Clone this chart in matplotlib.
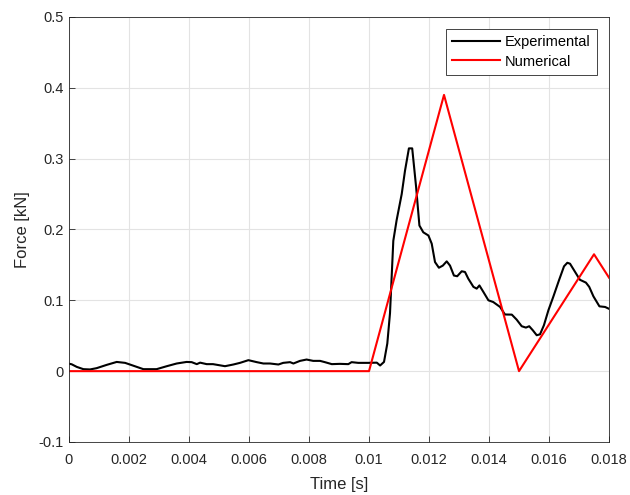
import matplotlib
matplotlib.use("Agg")
import matplotlib.pyplot as plt

plt.rcParams['font.family'] = ['Liberation Sans', 'DejaVu Sans']

exp_t = [0.0, 0.00009, 0.00026, 0.00048, 0.0007, 0.00092, 0.00126, 0.00159, 0.00187, 0.00209,
         0.00248, 0.00292, 0.00326, 0.00359, 0.00392, 0.00409, 0.00426, 0.00437, 0.00459, 0.0048,
         0.0052, 0.00548, 0.0057, 0.00598, 0.00626, 0.00648, 0.0067, 0.00698, 0.00714, 0.00737,
         0.00748, 0.0077, 0.00792, 0.00814, 0.00837, 0.00853, 0.00876, 0.00903, 0.00931, 0.00942,
         0.00964, 0.00998, 0.01026, 0.01037, 0.0105, 0.01061, 0.0107, 0.01081, 0.01092, 0.01109,
         0.0112, 0.01133, 0.01144, 0.01157, 0.01168, 0.01181, 0.01198, 0.01209, 0.0122, 0.01233,
         0.01246, 0.01259, 0.0127, 0.01283, 0.01294, 0.01309, 0.0132, 0.01331, 0.01348, 0.01359,
         0.01368, 0.01381, 0.01398, 0.01414, 0.01437, 0.01453, 0.01476, 0.01492, 0.01509, 0.01523,
         0.01534, 0.01546, 0.01559, 0.0157, 0.01583, 0.01598, 0.01614, 0.01633, 0.0165, 0.01661,
         0.0167, 0.01687, 0.01703, 0.01723, 0.01734, 0.01748, 0.01768, 0.01787, 0.018]
exp_f = [0.0105, 0.0097, 0.006, 0.0028, 0.0024, 0.0042, 0.0089, 0.013, 0.0117, 0.0085,
         0.0028, 0.0028, 0.007, 0.0108, 0.013, 0.0127, 0.0099, 0.012, 0.0099, 0.0099,
         0.007, 0.0094, 0.0117, 0.0155, 0.0127, 0.0108, 0.0108, 0.0094, 0.0117, 0.0127,
         0.0108, 0.0145, 0.0164, 0.0145, 0.0145, 0.0127, 0.0099, 0.0103, 0.0099, 0.0127,
         0.0117, 0.0117, 0.012, 0.008, 0.013, 0.039, 0.082, 0.184, 0.213, 0.25,
         0.283, 0.3145, 0.3145, 0.26, 0.2056, 0.196, 0.1915, 0.18, 0.154, 0.146,
         0.149, 0.155, 0.149, 0.135, 0.134, 0.141, 0.14, 0.1305, 0.119, 0.1165,
         0.121, 0.112, 0.1, 0.0976, 0.0906, 0.080, 0.0798, 0.0728, 0.0634, 0.0615,
         0.0634, 0.0577, 0.0507, 0.052, 0.0648, 0.086, 0.1047, 0.128, 0.148, 0.153,
         0.1517, 0.14, 0.129, 0.125, 0.119, 0.1056, 0.0915, 0.0906, 0.088]

num_t = [0.0, 0.010, 0.0125, 0.015, 0.0175, 0.018]
num_f = [0.0, 0.0, 0.39, 0.0, 0.165, 0.132]

xticks = [0, 0.002, 0.004, 0.006, 0.008, 0.010, 0.012, 0.014, 0.016, 0.018]
xticklabels = ['0', '0.002', '0.004', '0.006', '0.008', '0.01', '0.012', '0.014', '0.016', '0.018']
yticks = [-0.1, 0, 0.1, 0.2, 0.3, 0.4, 0.5]
yticklabels = ['-0.1', '0', '0.1', '0.2', '0.3', '0.4', '0.5']

fig = plt.figure(figsize=(6.3, 4.95), dpi=100)
ax = fig.add_axes([0.1095, 0.1071, 0.8572, 0.8586])
ax.plot(exp_t, exp_f, color='black', lw=1.5, label='Experimental')
ax.plot(num_t, num_f, color='red', lw=1.5, label='Numerical')
ax.set_xlim(0, 0.018)
ax.set_ylim(-0.1, 0.5)
ax.set_xticks(xticks)
ax.set_xticklabels(xticklabels)
ax.set_yticks(yticks)
ax.set_yticklabels(yticklabels)
ax.grid(True, color='#e3e3e3', lw=0.8)
ax.set_axisbelow(True)
ax.tick_params(direction='in', length=4, labelsize=10.5, colors='#262626', width=0.6)
ax.tick_params(axis='x', pad=8)
ax.tick_params(axis='y', pad=4)
for s in ax.spines.values():
    s.set_color('#262626')
    s.set_linewidth(0.6)
ax.set_xlabel('Time [s]', fontsize=12, color='#262626', labelpad=7)
ax.set_ylabel('Force [kN]', fontsize=12, color='#262626', labelpad=6)
leg = ax.legend(loc='upper right', fontsize=10.5, fancybox=False, framealpha=1,
                edgecolor='#262626', borderpad=0.45, handlelength=3.3, labelspacing=0.35,
                handletextpad=0.3, bbox_to_anchor=(0.978, 0.972), borderaxespad=0)
leg.get_frame().set_linewidth(0.6)
fig.savefig('out.png', dpi=100)
